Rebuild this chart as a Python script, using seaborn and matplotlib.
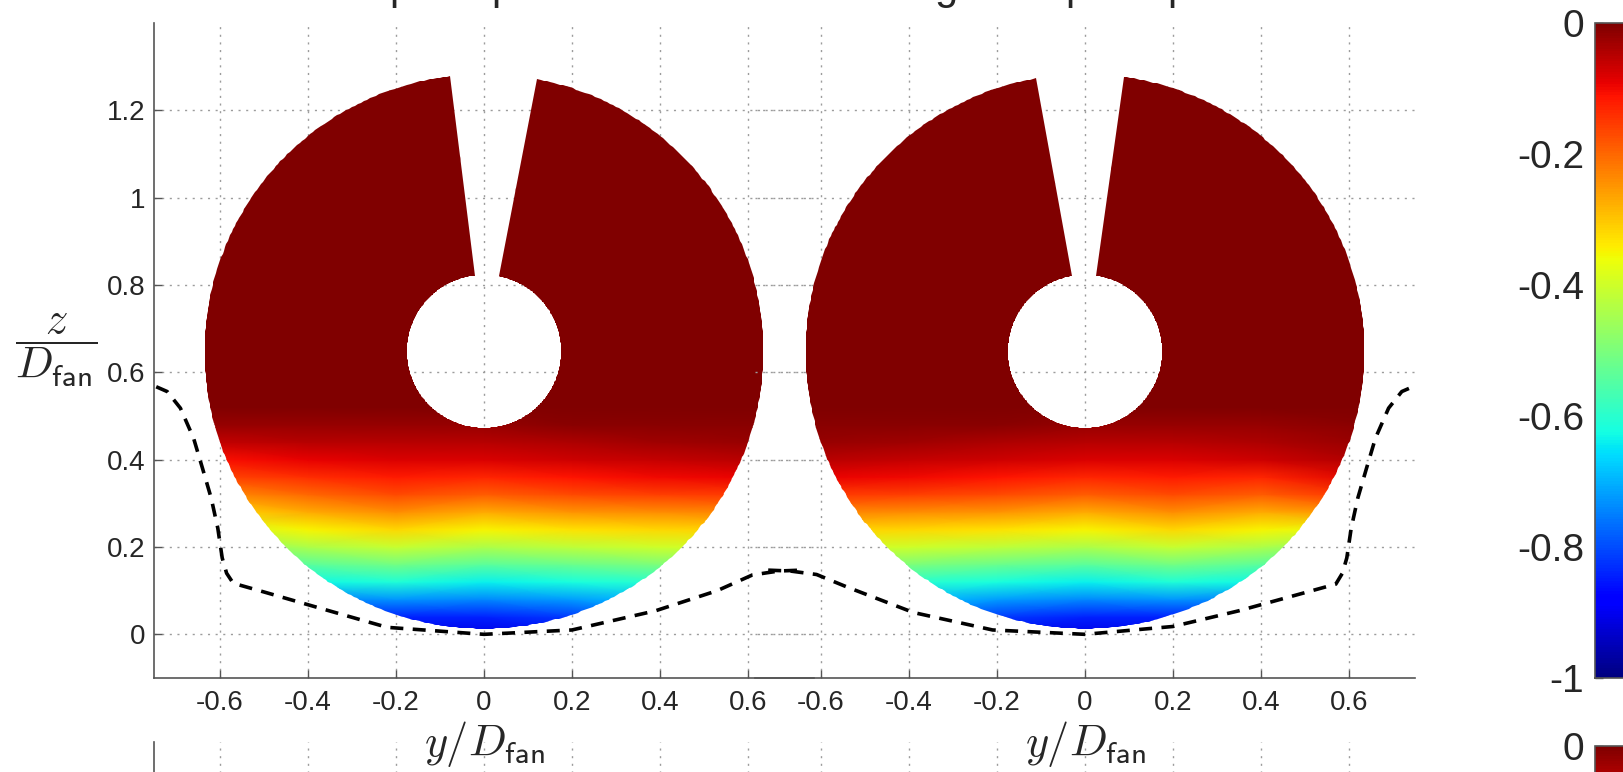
import numpy as np
import matplotlib
matplotlib.use('Agg')
import matplotlib.pyplot as plt
from matplotlib.patches import PathPatch
from matplotlib.path import Path
from matplotlib.ticker import FixedLocator
import seaborn as sns

sns.set_theme(style='white')
plt.rcParams['font.family'] = ['Liberation Sans', 'DejaVu Sans']
plt.rcParams['mathtext.fontset'] = 'cm'
plt.rcParams['axes.unicode_minus'] = False

# measurement grid (z/D_fan rows, y/D_fan columns)
z_rows = [0.00, 0.04, 0.08, 0.12, 0.16, 0.20, 0.24, 0.28, 0.32, 0.36, 0.40, 0.44, 0.48, 0.52, 1.30]
y_cols = [-0.65, -0.40, -0.20, 0.00, 0.20, 0.40, 0.65]

# left fan face values
left_vals = [
    [-0.82, -0.88, -0.91, -0.91, -0.90, -0.82, -0.76],
    [-0.77, -0.84, -0.84, -0.84, -0.82, -0.76, -0.71],
    [-0.72, -0.75, -0.73, -0.74, -0.72, -0.68, -0.65],
    [-0.67, -0.63, -0.61, -0.64, -0.62, -0.60, -0.59],
    [-0.59, -0.54, -0.51, -0.54, -0.52, -0.50, -0.49],
    [-0.50, -0.44, -0.41, -0.44, -0.42, -0.40, -0.39],
    [-0.41, -0.35, -0.32, -0.35, -0.33, -0.32, -0.31],
    [-0.33, -0.27, -0.24, -0.27, -0.25, -0.24, -0.23],
    [-0.25, -0.20, -0.17, -0.19, -0.17, -0.16, -0.15],
    [-0.17, -0.14, -0.12, -0.13, -0.11, -0.10, -0.09],
    [-0.11, -0.09, -0.08, -0.08, -0.07, -0.06, -0.05],
    [-0.06, -0.05, -0.05, -0.05, -0.04, -0.03, -0.02],
    [-0.02, -0.02, -0.02, -0.02, -0.01, -0.01, -0.01],
    [0.00, 0.00, 0.00, 0.00, 0.00, 0.00, 0.00],
    [0.00, 0.00, 0.00, 0.00, 0.00, 0.00, 0.00],
]

# right fan face values
right_vals = [
    [-0.76, -0.82, -0.90, -0.91, -0.91, -0.88, -0.82],
    [-0.71, -0.76, -0.82, -0.84, -0.84, -0.84, -0.77],
    [-0.65, -0.68, -0.72, -0.74, -0.73, -0.75, -0.72],
    [-0.59, -0.60, -0.62, -0.64, -0.61, -0.63, -0.67],
    [-0.49, -0.50, -0.52, -0.54, -0.51, -0.54, -0.59],
    [-0.39, -0.40, -0.42, -0.44, -0.41, -0.44, -0.50],
    [-0.31, -0.32, -0.33, -0.35, -0.32, -0.35, -0.38],
    [-0.23, -0.24, -0.25, -0.27, -0.24, -0.27, -0.24],
    [-0.15, -0.16, -0.17, -0.19, -0.17, -0.19, -0.14],
    [-0.09, -0.10, -0.11, -0.13, -0.12, -0.13, -0.08],
    [-0.05, -0.06, -0.07, -0.08, -0.08, -0.07, -0.04],
    [-0.02, -0.03, -0.04, -0.05, -0.05, -0.04, -0.02],
    [-0.01, -0.01, -0.01, -0.02, -0.02, -0.02, -0.01],
    [0.00, 0.00, 0.00, 0.00, 0.00, 0.00, 0.00],
    [0.00, 0.00, 0.00, 0.00, 0.00, 0.00, 0.00],
]

# body outline (dashed line)
left_body_y = [-0.745, -0.72, -0.69, -0.66, -0.64, -0.62, -0.605, -0.595, -0.585, -0.57,
               -0.50, -0.38, -0.22, 0.00, 0.20, 0.39, 0.53, 0.61, 0.67, 0.72]
left_body_z = [0.567, 0.556, 0.518, 0.449, 0.381, 0.312, 0.243, 0.175, 0.140, 0.117,
               0.097, 0.062, 0.016, 0.000, 0.010, 0.054, 0.100, 0.136, 0.145, 0.147]
right_body_y = [-0.72, -0.67, -0.61, -0.54, -0.39, -0.21, 0.00, 0.20, 0.35, 0.48,
                0.57, 0.585, 0.595, 0.605, 0.62, 0.64, 0.66, 0.69, 0.72, 0.745]
right_body_z = [0.147, 0.145, 0.137, 0.108, 0.050, 0.010, 0.000, 0.018, 0.054, 0.090,
                0.115, 0.140, 0.175, 0.243, 0.312, 0.381, 0.449, 0.518, 0.556, 0.567]

x_ticks = [-0.6, -0.4, -0.2, 0.0, 0.2, 0.4, 0.6]
x_tick_labels = ['-0.6', '-0.4', '-0.2', '0', '0.2', '0.4', '0.6']
y_ticks = [0.0, 0.2, 0.4, 0.6, 0.8, 1.0, 1.2]
y_tick_labels = ['0', '0.2', '0.4', '0.6', '0.8', '1', '1.2']
cbar_ticks = [-1.0, -0.8, -0.6, -0.4, -0.2, 0.0]
cbar_tick_labels = ['-1', '-0.8', '-0.6', '-0.4', '-0.2', '0']

W, H = 1624, 772
fig = plt.figure(figsize=(W / 100, H / 100), dpi=100)


def px_axes(x0, top, w, h):
    return fig.add_axes([x0 / W, (H - top - h) / H, w / W, h / H])


grid_kw = dict(color='#9c9c9c', linestyle=(0, (1.5, 4)), linewidth=1.0)
spine_col = '#555555'


def style_axes(ax, show_ylabels, labels=True):
    ax.set_facecolor('none')
    ax.set_xlim(-0.75, 0.75)
    ax.set_ylim(-0.1, 1.4)
    ax.set_xticks(x_ticks)
    ax.set_yticks(y_ticks)
    ax.set_axisbelow(True)
    ax.grid(True, **grid_kw)
    for s in ['top', 'right']:
        ax.spines[s].set_visible(False)
    for s in ['bottom', 'left']:
        ax.spines[s].set_color(spine_col)
        ax.spines[s].set_linewidth(1.2)
    ax.tick_params(axis='x', direction='in', length=6, width=1, color=spine_col,
                   labelsize=20, pad=9, bottom=True, labelbottom=labels)
    if labels:
        ax.set_xticklabels(x_tick_labels)
    if show_ylabels:
        ax.tick_params(axis='y', direction='in', length=6, width=1, color=spine_col,
                       labelsize=20, pad=6, left=True, labelleft=labels)
        if labels:
            ax.set_yticklabels(y_tick_labels)
    else:
        ax.spines['left'].set_visible(False)
        ax.tick_params(axis='y', length=0, labelleft=False)
    ax.set_xlabel('')
    ax.set_ylabel('')


def fan_face(ax, vals, gap):
    mesh = ax.pcolormesh(y_cols, z_rows, np.array(vals), shading='gouraud',
                         cmap='jet', vmin=-1, vmax=0, zorder=2)
    # annulus with a narrow slot at the top (probe support)
    th = np.radians(np.linspace(gap[1], gap[0] + 360, 500))
    cz, r_out, r_in = 0.648, 0.635, 0.175
    outer = np.column_stack([r_out * np.cos(th), cz + r_out * np.sin(th)])
    inner = np.column_stack([r_in * np.cos(th), cz + r_in * np.sin(th)])[::-1]
    verts = np.vstack([outer, inner, outer[:1]])
    codes = [Path.MOVETO] + [Path.LINETO] * (len(verts) - 2) + [Path.CLOSEPOLY]
    disc = PathPatch(Path(verts, codes), facecolor='none', edgecolor='none')
    ax.add_patch(disc)
    mesh.set_clip_path(disc)
    return mesh


# lower row of panels (only their top edge is visible)
for x0, show in [(154, True), (755, False)]:
    axl = px_axes(x0, 742, 660, 655)
    style_axes(axl, show, labels=False)

ax1 = px_axes(154, 23, 660, 655)
ax2 = px_axes(755, 23, 660, 655)

m1 = fan_face(ax1, left_vals, (79, 97))
m2 = fan_face(ax2, right_vals, (82, 100))

dash = (0, (3.6, 2.6))
sns.lineplot(x=left_body_y, y=left_body_z, ax=ax1, color='black', linewidth=2.6,
             linestyle=dash, sort=False, estimator=None, zorder=3)
sns.lineplot(x=right_body_y, y=right_body_z, ax=ax2, color='black', linewidth=2.6,
             linestyle=dash, sort=False, estimator=None, zorder=3)

style_axes(ax1, True)
style_axes(ax2, False)

xlab = r'$y/D_{\mathsf{fan}}$'
ax1.text(0.5, -0.101, xlab, transform=ax1.transAxes, ha='center', va='center', fontsize=32)
ax2.text(0.5, -0.101, xlab, transform=ax2.transAxes, ha='center', va='center', fontsize=32)
fig.text(56 / W, 1 - 350 / H, r'$\dfrac{z}{D_{\mathsf{fan}}}$', ha='center', va='center',
         fontsize=32)

# colorbars (second one belongs to the panels below)
for top, ticks, labs in [(23, cbar_ticks, cbar_tick_labels), (746, [0.0], ['0'])]:
    cax = px_axes(1595, top, 40, 655)
    cb = fig.colorbar(m1, cax=cax)
    cb.set_ticks(ticks)
    cb.set_ticklabels(labs)
    cax.yaxis.set_ticks_position('left')
    cax.yaxis.set_minor_locator(FixedLocator([-0.9, -0.7, -0.5, -0.3, -0.1]))
    cax.tick_params(which='both', direction='in', length=6, width=1, color=spine_col,
                    labelsize=28, pad=8)
    cb.outline.set_edgecolor(spine_col)
    cb.outline.set_linewidth(1.2)

# bottom edge of the cut-off title
for x, ch in [(401, 'p'), (503, 'p'), (946, 'g'), (1077, 'p'), (1179, 'p')]:
    fig.text(x / W, 1 + 1 / H, ch, ha='center', va='baseline', fontsize=30)

fig.savefig('out.png', dpi=100)
